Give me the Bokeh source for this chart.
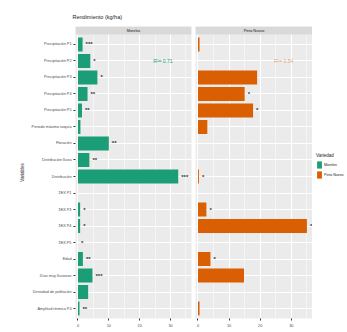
from bokeh.plotting import figure
from bokeh.layouts import row
from bokeh.models import (ColumnDataSource, FixedTicker, Range1d, BoxAnnotation,
                          Label, Legend, LegendItem, Grid)
from bokeh.core.properties import value
from bokeh.embed import file_html
from bokeh.resources import INLINE

# ---------------- data ----------------
variables = ["Precipitación P1", "Precipitación P2", "Precipitación P3",
             "Precipitación P4", "Precipitación P5", "Periodo máximo sequía",
             "Floración", "Distribución lluvia", "Distribución",
             "ΣEX P1", "ΣEX P3", "ΣEX P4", "ΣEX P5", "Edad",
             "Días muy lluviosos", "Densidad de población", "Amplitud térmica P4"]
morelos = [1.5, 4.0, 6.3, 3.1, 1.3, 0.8, 10.0, 3.7, 32.5, 0.0, 0.7, 0.7, 0.0,
           1.6, 4.7, 3.3, 0.5]
morelos_sig = ["***", "*", "*", "**", "**", "", "**", "**", "***", "", "*", "*",
               "*", "**", "***", "", "**"]
pinto = [0.5, 0.0, 19.0, 15.0, 17.7, 3.0, 0.0, 0.0, 0.3, 0.0, 2.7, 35.0, 0.0,
         4.0, 14.8, 0.0, 0.5]
pinto_sig = ["", "", "", "*", "*", "", "", "", "*", "", "*", "*", "", "*", "",
             "", ""]
x_ticks = [0, 10, 20, 30]
x_minor = [5, 15, 25, 35]
panel_names = ["Morelos", "Pinto Nuevo"]
r2_texts = ["R²= 0.71", "R²= 0.54"]
title_text = "Rendimiento (kg/ha)"
y_title = "Variables"
x_title = "Dif."

GREEN = "#1B9E77"
ORANGE = "#D95F02"
FONT = "Liberation Sans"

n = len(variables)
pos = list(range(1, n + 1))
Y_BOTTOM = n + 0.6
Y_TOP = 0.4
STRIP = 0.485
XR = (-0.8, 36.8)
H = 332


def make_panel(width, min_left, min_right, vals, sig, color, name, r2,
               r2_alpha, show_y, title=None):
    kw = dict(title=title) if title else {}
    p = figure(width=width, height=H, x_range=Range1d(*XR),
               y_range=Range1d(Y_BOTTOM, Y_TOP - STRIP),
               output_backend="svg", toolbar_location=None, tools="",
               y_axis_location="left" if show_y else None,
               min_border_left=min_left, min_border_right=min_right,
               min_border_top=26, min_border_bottom=14, **kw)
    p.background_fill_color = "#EBEBEB"
    p.border_fill_color = "white"
    p.outline_line_color = None

    # x axis
    p.xaxis.ticker = FixedTicker(ticks=x_ticks, minor_ticks=x_minor)
    p.xaxis.axis_line_color = None
    p.xaxis.major_tick_line_color = "#333333"
    p.xaxis.major_tick_out = 2
    p.xaxis.major_tick_in = 0
    p.xaxis.minor_tick_line_color = None
    p.xaxis.major_label_text_font_size = "3.8px"
    p.xaxis.major_label_text_color = "#4D4D4D"
    p.xaxis.major_label_text_font = FONT
    p.xaxis.major_label_standoff = 1
    p.xgrid.ticker = FixedTicker(ticks=x_ticks, minor_ticks=x_minor)
    p.xgrid.grid_line_color = "white"
    p.xgrid.grid_line_width = 1
    p.xgrid.minor_grid_line_color = "white"
    p.xgrid.minor_grid_line_width = 0.5

    if show_y:
        p.yaxis.ticker = FixedTicker(ticks=pos, minor_ticks=[])
        p.yaxis.major_label_overrides = {i: v for i, v in zip(pos, variables)}
        p.yaxis.axis_line_color = None
        p.yaxis.major_tick_line_color = "#333333"
        p.yaxis.major_tick_out = 2
        p.yaxis.major_tick_in = 0
        p.yaxis.minor_tick_line_color = None
        p.yaxis.major_label_text_font_size = "3.8px"
        p.yaxis.major_label_text_color = "#4D4D4D"
        p.yaxis.major_label_text_font = FONT
        p.yaxis.major_label_standoff = 2
        p.yaxis.axis_label = y_title
        p.yaxis.axis_label_text_font_size = "4.5px"
        p.yaxis.axis_label_text_font_style = "normal"
        p.yaxis.axis_label_text_font = FONT
        p.yaxis.axis_label_text_color = "#1A1A1A"
        p.yaxis.axis_label_standoff = 4
        p.ygrid.ticker = FixedTicker(ticks=pos, minor_ticks=[])
        p.ygrid.grid_line_color = "white"
        p.ygrid.grid_line_width = 1
    else:
        g = Grid(dimension=1, ticker=FixedTicker(ticks=pos, minor_ticks=[]),
                 grid_line_color="white", grid_line_width=1)
        p.add_layout(g)

    src = ColumnDataSource(dict(y=pos, v=vals, s=sig))
    p.hbar(y="y", left=0, right="v", height=0.85, source=src,
           fill_color=color, line_color=None)
    p.text(x="v", y="y", text="s", source=src, x_offset=3,
           text_align="left", text_baseline="middle",
           text_font=value(FONT), text_font_size="6px",
           text_font_style="bold", text_color="#333333")

    p.add_layout(Label(x=27.5, y=pos[1], text=r2, text_font=FONT,
                       text_font_size="5px", text_color=color,
                       text_alpha=r2_alpha, text_align="center",
                       text_baseline="middle"))

    # facet strip
    p.add_layout(BoxAnnotation(left=XR[0], right=XR[1], top=Y_TOP - STRIP,
                               bottom=Y_TOP, fill_color="#D9D9D9",
                               fill_alpha=1, line_color=None))
    p.add_layout(Label(x=(XR[0] + XR[1]) / 2, y=Y_TOP - STRIP / 2, text=name,
                       text_font=FONT, text_font_size="3.8px",
                       text_color="#1A1A1A", text_align="center",
                       text_baseline="middle"))
    return p


pa = make_panel(195, 75, 4, morelos, morelos_sig, GREEN, panel_names[0],
                r2_texts[0], 1.0, True, title=title_text)
pa.title.text_font = FONT
pa.title.text_font_size = "5.5px"
pa.title.text_font_style = "normal"
pa.title.text_color = "#1A1A1A"
pa.title.align = "left"
pa.title.offset = -3
pa.title.standoff = 14
pa.add_layout(Label(x=XR[1], y=Y_BOTTOM, y_offset=-8,
                    text=x_title, text_font=FONT, text_font_size="4px",
                    text_color="#1A1A1A", text_align="center",
                    text_baseline="top"))

pb = make_panel(117, 0, 0, pinto, pinto_sig, ORANGE, panel_names[1],
                r2_texts[1], 0.55, False)

# legend figure
pc = figure(width=35, height=H, output_backend="svg", toolbar_location=None,
            tools="", x_axis_location=None, y_axis_location=None,
            x_range=Range1d(0, 1), y_range=Range1d(0, 1),
            min_border_left=0, min_border_right=0, min_border_top=0,
            min_border_bottom=0)
pc.outline_line_color = None
pc.background_fill_color = "white"
pc.grid.visible = False
nan = float("nan")
r1 = pc.hbar(y=[nan], left=[nan], right=[nan], height=1, fill_color=GREEN,
             line_color=None)
r2 = pc.hbar(y=[nan], left=[nan], right=[nan], height=1, fill_color=ORANGE,
             line_color=None)
legend = Legend(items=[LegendItem(label=panel_names[0], renderers=[r1]),
                       LegendItem(label=panel_names[1], renderers=[r2])],
                location=(4, 139), title="Variedad",
                title_text_font=FONT, title_text_font_size="4.5px",
                title_text_font_style="normal", title_text_color="#1A1A1A",
                title_standoff=2, label_text_font=FONT,
                label_text_font_size="3.6px", label_text_color="#1A1A1A",
                glyph_width=6, glyph_height=9, label_height=9,
                label_standoff=2, spacing=1, padding=0, margin=0,
                border_line_color=None, background_fill_alpha=0)
pc.add_layout(legend)

layout = row(pa, pb, pc)
open("out.html", "w").write(file_html(layout, INLINE))
